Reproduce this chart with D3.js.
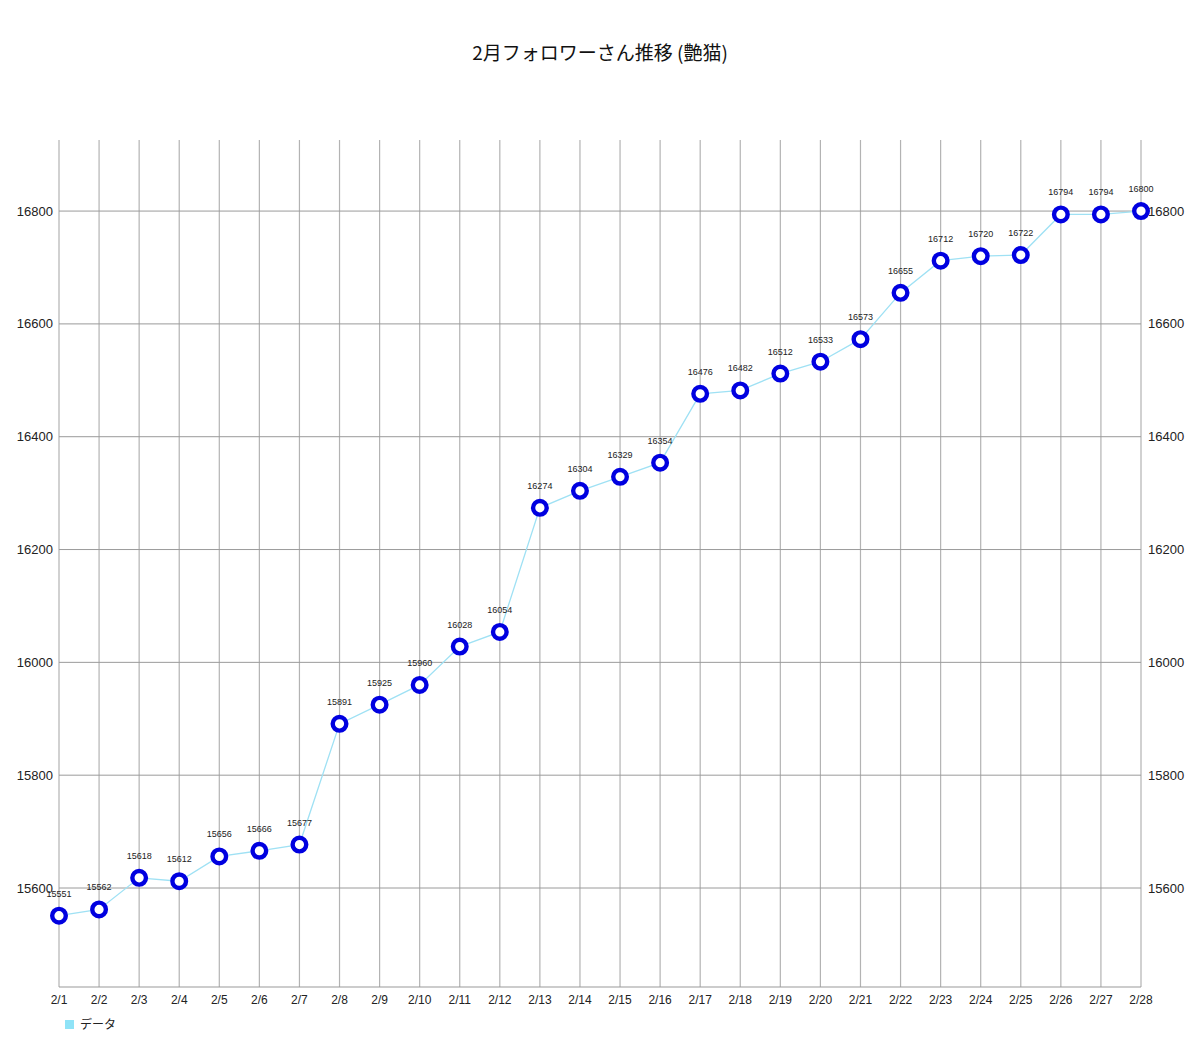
<!DOCTYPE html>
<html>
<head>
<meta charset="utf-8">
<script src="https://cdn.jsdelivr.net/npm/d3@7"></script>
<style>
  body { margin: 0; background: #fff; }
  text { font-family: "Liberation Sans", "Noto Sans CJK JP", sans-serif; }
  text.jp { font-family: "Noto Sans CJK JP", "Noto Sans", sans-serif; }
</style>
</head>
<body>
<svg id="canvas" width="1200" height="1039"></svg>
<script>
let days = ["2/1","2/2","2/3","2/4","2/5","2/6","2/7","2/8","2/9","2/10","2/11","2/12","2/13","2/14",
  "2/15","2/16","2/17","2/18","2/19","2/20","2/21","2/22","2/23","2/24","2/25","2/26","2/27","2/28"]
let followers = [15551,15562,15618,15612,15656,15666,15677,15891,15925,15960,16028,16054,16274,16304,
  16329,16354,16476,16482,16512,16533,16573,16655,16712,16720,16722,16794,16794,16800]
let yTicks = [15600,15800,16000,16200,16400,16600,16800]
let title = "2月フォロワーさん推移 (艶猫)"
let seriesName = "データ"

let canvas = d3.select('#canvas')

let plotLeft = 59, plotRight = 1141, plotTop = 140, plotBottom = 987

let x = d3.scalePoint().domain(days).range([plotLeft, plotRight])
let y = d3.scaleLinear().domain([15424.5, 16926]).range([plotBottom, plotTop])

// title
canvas.append('text')
  .attr('class', 'jp')
  .attr('x', 600).attr('y', 60)
  .attr('text-anchor', 'middle')
  .style('font-size', '19px')
  .attr('fill', '#111')
  .text(title)

// vertical grid
canvas.append('g').selectAll('line')
  .data(days).enter().append('line')
  .attr('x1', d => x(d)).attr('x2', d => x(d))
  .attr('y1', plotTop).attr('y2', plotBottom)
  .attr('stroke', '#b3b3b3').attr('stroke-width', 1.2)

// horizontal grid
canvas.append('g').selectAll('line')
  .data(yTicks).enter().append('line')
  .attr('x1', plotLeft).attr('x2', plotRight)
  .attr('y1', d => y(d)).attr('y2', d => y(d))
  .attr('stroke', '#9a9a9a').attr('stroke-width', 1)

// bottom axis line
canvas.append('line')
  .attr('x1', plotLeft).attr('x2', plotRight)
  .attr('y1', plotBottom).attr('y2', plotBottom)
  .attr('stroke', '#9a9a9a').attr('stroke-width', 1.2)

// left axis labels
canvas.append('g').selectAll('text')
  .data(yTicks).enter().append('text')
  .attr('x', 53).attr('y', d => y(d))
  .attr('dy', '0.35em')
  .attr('text-anchor', 'end')
  .style('font-size', '13px')
  .attr('fill', '#222')
  .text(d => d)

// right axis labels
canvas.append('g').selectAll('text')
  .data(yTicks).enter().append('text')
  .attr('x', 1148).attr('y', d => y(d))
  .attr('dy', '0.35em')
  .attr('text-anchor', 'start')
  .style('font-size', '13px')
  .attr('fill', '#222')
  .text(d => d)

// x labels
canvas.append('g').selectAll('text')
  .data(days).enter().append('text')
  .attr('x', d => x(d)).attr('y', 1000)
  .attr('dy', '0.35em')
  .attr('text-anchor', 'middle')
  .style('font-size', '12px')
  .attr('fill', '#222')
  .text(d => d)

let points = days.map((d, i) => ({day: d, value: followers[i]}))

// line
let line = d3.line().x(d => x(d.day)).y(d => y(d.value))
canvas.append('path')
  .datum(points)
  .attr('d', line)
  .attr('fill', 'none')
  .attr('stroke', '#9fe1f4')
  .attr('stroke-width', 1.3)

// markers
canvas.append('g').selectAll('circle')
  .data(points).enter().append('circle')
  .attr('cx', d => x(d.day)).attr('cy', d => y(d.value))
  .attr('r', 6.8)
  .attr('fill', '#fff')
  .attr('stroke', '#0000e0')
  .attr('stroke-width', 4.4)

// value labels
canvas.append('g').selectAll('text')
  .data(points).enter().append('text')
  .attr('x', d => x(d.day)).attr('y', d => y(d.value) - 19)
  .attr('text-anchor', 'middle')
  .style('font-size', '9px')
  .attr('fill', '#222')
  .text(d => d.value)

// legend
canvas.append('rect')
  .attr('x', 65).attr('y', 1020).attr('width', 9).attr('height', 9)
  .attr('fill', '#8fe3f7')
canvas.append('text')
  .attr('class', 'jp')
  .attr('x', 80).attr('y', 1025)
  .attr('dy', '0.35em')
  .style('font-size', '12px')
  .attr('fill', '#222')
  .text(seriesName)
</script>
</body>
</html>
